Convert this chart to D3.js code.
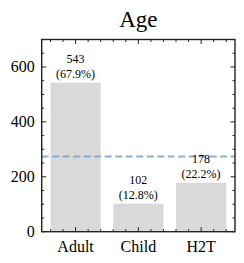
<!DOCTYPE html>
<meta charset="utf-8">
<style>
  body { margin: 0; background: #fff; }
</style>
<script src="https://d3js.org/d3.v7.min.js"></script>
<body>
<script>
  var categories = ["Adult", "Child", "H2T"];
  var counts = [543, 102, 178];
  var percents = ["67.9%", "12.8%", "22.2%"];
  var yTicks = [0, 200, 400, 600];

  var W = 244, H = 263,
      margin = {top: 39.5, right: 9, bottom: 31.3, left: 41.7};

  var svg = d3.select("body").append("svg")
      .attr("width", W).attr("height", H)
      .attr("font-family", "'Liberation Serif', 'Times New Roman', Times, serif");

  var x = d3.scaleLinear().domain([-0.54, 2.54]).range([margin.left, W - margin.right]);
  var y = d3.scaleLinear().domain([0, 700]).range([H - margin.bottom, margin.top]);
  var barW = 0.8;
  var mean = d3.mean(counts);

  svg.append("text")
      .attr("x", (margin.left + W - margin.right) / 2)
      .attr("y", 27)
      .attr("text-anchor", "middle")
      .attr("font-size", 23)
      .text("Age");

  // bars
  svg.selectAll(".bar").data(counts).enter().append("rect")
      .attr("x", (d, i) => x(i - barW / 2))
      .attr("width", x(barW) - x(0))
      .attr("y", d => y(d))
      .attr("height", d => y(0) - y(d))
      .attr("fill", "#d9d9d9");

  // mean line
  svg.append("line")
      .attr("x1", x.range()[0]).attr("x2", x.range()[1])
      .attr("y1", y(mean)).attr("y2", y(mean))
      .attr("stroke", "#7fa9cb").attr("stroke-opacity", 0.9)
      .attr("stroke-width", 2)
      .attr("stroke-dasharray", "7,3.5");

  // labels: count and share above each bar
  svg.selectAll(".cnt").data(counts).enter().append("text")
      .attr("x", (d, i) => x(i))
      .attr("y", d => y(d) - 19.5)
      .attr("text-anchor", "middle")
      .attr("font-size", 12)
      .text(d => d);
  svg.selectAll(".pct").data(counts).enter().append("text")
      .attr("x", (d, i) => x(i))
      .attr("y", d => y(d) - 5)
      .attr("text-anchor", "middle")
      .attr("font-size", 12)
      .text((d, i) => "(" + percents[i] + ")");

  // axes with inward ticks on all sides
  var ax = svg.append("g").attr("stroke", "#222");
  var x0 = x.range()[0], x1 = x.range()[1], yb = y(0), yt = y(700);

  var xMinor = d3.range(-0.4, 2.41, 0.2).map(v => Math.round(v * 10) / 10);
  xMinor.forEach(function(v) {
    var major = categories.some((c, i) => Math.abs(i - v) < 1e-6);
    var len = major ? 4.5 : 2.5;
    ax.append("line").attr("x1", x(v)).attr("x2", x(v))
      .attr("y1", yb).attr("y2", yb - len).attr("stroke-width", 1);
    ax.append("line").attr("x1", x(v)).attr("x2", x(v))
      .attr("y1", yt).attr("y2", yt + len).attr("stroke-width", 1);
  });

  d3.range(0, 701, 50).forEach(function(v) {
    var major = yTicks.indexOf(v) >= 0;
    var len = major ? 4.5 : 2.5;
    ax.append("line").attr("x1", x0).attr("x2", x0 + len)
      .attr("y1", y(v)).attr("y2", y(v)).attr("stroke-width", 1);
    ax.append("line").attr("x1", x1).attr("x2", x1 - len)
      .attr("y1", y(v)).attr("y2", y(v)).attr("stroke-width", 1);
  });

  ax.append("rect")
      .attr("x", x0).attr("y", yt)
      .attr("width", x1 - x0).attr("height", yb - yt)
      .attr("fill", "none").attr("stroke-width", 1.4);

  svg.selectAll(".ytl").data(yTicks).enter().append("text")
      .attr("x", x0 - 7)
      .attr("y", d => y(d) + 5)
      .attr("text-anchor", "end")
      .attr("font-size", 16)
      .text(d => d);

  svg.selectAll(".xtl").data(categories).enter().append("text")
      .attr("x", (d, i) => x(i))
      .attr("y", yb + 20)
      .attr("text-anchor", "middle")
      .attr("font-size", 16)
      .text(d => d);
</script>
</body>
